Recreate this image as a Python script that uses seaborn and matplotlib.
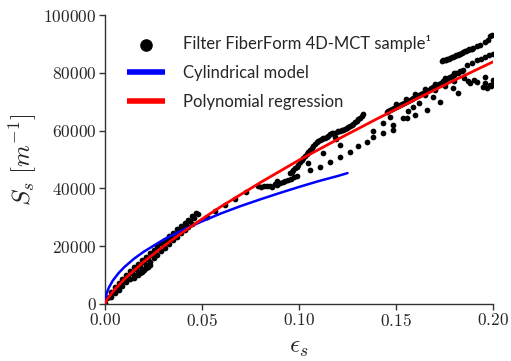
import matplotlib
matplotlib.use("Agg")
import matplotlib.pyplot as plt
from matplotlib.ticker import FuncFormatter
import seaborn as sns
import pandas as pd

# ---------------- data ----------------
# Dense band 0 - 0.048 (centre, upper edge, lower edge, lower lobe)
band_c_eps = [0.000, 0.002, 0.004, 0.006, 0.008, 0.010, 0.012, 0.014, 0.016, 0.018, 0.020, 0.022, 0.024,
              0.026, 0.028, 0.030, 0.032, 0.034, 0.036, 0.038, 0.040, 0.042, 0.044, 0.046, 0.048]
band_c_S = [400, 2400, 4000, 5500, 6900, 8200, 9500, 10800, 12000, 13200, 14400, 15600, 16800,
            18000, 19200, 20500, 21700, 22900, 24100, 25300, 26400, 27500, 28600, 29800, 31000]
band_u_eps = [0.001, 0.003, 0.005, 0.007, 0.009, 0.011, 0.013, 0.015, 0.017, 0.019, 0.021, 0.023,
              0.025, 0.027, 0.029, 0.031, 0.033, 0.035, 0.037, 0.039, 0.041, 0.043, 0.045, 0.047]
band_u_S = [2200, 4000, 5800, 7300, 8800, 10100, 11400, 12700, 13900, 15100, 16300, 17500,
            18700, 19900, 21100, 22300, 23500, 24700, 25900, 27000, 28100, 29200, 30300, 31400]
band_l_eps = [0.003, 0.005, 0.007, 0.009, 0.011, 0.013, 0.015, 0.017, 0.019, 0.021, 0.023, 0.025,
              0.027, 0.029, 0.031, 0.033, 0.035, 0.037, 0.039, 0.041, 0.043, 0.045]
band_l_S = [2300, 3700, 5000, 6300, 7500, 8700, 9900, 11000, 12200, 13400, 14600, 15900,
            17100, 18300, 19500, 20800, 22000, 23200, 24400, 25500, 26600, 27700]
lobe_eps = [0.015, 0.017, 0.018, 0.019, 0.020, 0.021, 0.022, 0.023]
lobe_S = [9000, 10100, 10700, 11200, 11700, 12300, 12800, 13500]

# Sparse dots and clusters beyond 0.05
sparse_eps = [0.0524, 0.0567, 0.0619, 0.0670, 0.0727]
sparse_S = [30200, 32300, 34300, 36200, 38600]
flat_eps = [0.0790, 0.0805, 0.0820, 0.0835, 0.0850, 0.0860, 0.0875, 0.0885, 0.0885, 0.0900,
            0.0915, 0.0930, 0.0945, 0.0960, 0.0975, 0.0990]
flat_S = [41000, 40600, 40800, 40700, 41000, 40500, 41600, 42500, 41200, 41700,
          42100, 42500, 43000, 43400, 43800, 44300]
rise_eps = [0.0954, 0.0970, 0.0988, 0.1005, 0.1022, 0.1040, 0.1057, 0.1074, 0.1091, 0.1108,
            0.1125, 0.1142, 0.1160, 0.1177, 0.1185, 0.1190, 0.1194, 0.1212, 0.1229, 0.1246,
            0.1263, 0.1280, 0.1297, 0.1315, 0.1332,
            0.0962, 0.0979, 0.0996, 0.1013, 0.1031, 0.1048, 0.1065, 0.1082, 0.1100, 0.1116,
            0.1133, 0.1151, 0.1168, 0.1203, 0.1220, 0.1237, 0.1254, 0.1271, 0.1288, 0.1306, 0.1323]
rise_S = [45200, 46300, 47500, 49000, 50400, 51900, 53300, 54800, 56200, 56800,
          57300, 57900, 58800, 59200, 57900, 57000, 59500, 59900, 60300, 60900,
          61500, 62400, 63400, 64500, 65700,
          45700, 46900, 48200, 49700, 51100, 52600, 54000, 55500, 56500, 57000,
          57600, 58300, 59000, 59700, 60100, 60600, 61200, 61900, 62900, 63900, 65100]
lowrow_eps = [0.1048, 0.1057, 0.1108, 0.1125, 0.1160, 0.1211, 0.1211, 0.1263, 0.1306, 0.1349,
              0.1383, 0.1383, 0.1435, 0.1486, 0.1435, 0.1486, 0.1538, 0.1598, 0.1658]
lowrow_S = [48900, 46400, 47500, 52100, 49200, 50700, 55000, 52700, 54700, 56200,
            57700, 60000, 59000, 60200, 62500, 61900, 64200, 65400, 67100]
mid_eps = [0.1452, 0.1470, 0.1490, 0.1510, 0.1530, 0.1550, 0.1570, 0.1590, 0.1610, 0.1630,
           0.1650, 0.1670, 0.1690, 0.1710, 0.1730, 0.1750, 0.1770, 0.1790, 0.1810, 0.1830,
           0.1847, 0.150, 0.155, 0.160, 0.165, 0.170, 0.175, 0.180, 0.165, 0.170, 0.175, 0.180,
           0.1461, 0.1480, 0.1500, 0.1520, 0.1540, 0.1560, 0.1580, 0.1600, 0.1620, 0.1640,
           0.1660, 0.1680, 0.1700, 0.1720, 0.1740, 0.1760, 0.1780, 0.1800, 0.1820, 0.1838]
mid_S = [66500, 67100, 67800, 68500, 69200, 69900, 70600, 71300, 72000, 72700,
         73400, 74200, 75000, 75800, 76600, 77400, 78200, 79000, 79800, 80500,
         81000, 69200, 71000, 72800, 74500, 76300, 78200, 80100, 72200, 73900, 75500, 77300,
         66800, 67400, 68100, 68800, 69500, 70200, 70900, 71600, 72300, 73000,
         73800, 74600, 75400, 76200, 77000, 77800, 78600, 79400, 80100, 80700]
cont_eps = [0.1864, 0.1890, 0.1915, 0.1940, 0.1960, 0.1980, 0.2000]
cont_S = [82700, 83500, 84300, 84900, 85600, 86000, 86500]
top_eps = [0.1735, 0.1750, 0.1765, 0.1780, 0.1795, 0.1810, 0.1825, 0.1840, 0.1855, 0.1870,
           0.1885, 0.1899, 0.1915, 0.1933, 0.1959, 0.1975, 0.1985, 0.1993,
           0.1742, 0.1757, 0.1772, 0.1787, 0.1802, 0.1817, 0.1832, 0.1847, 0.1862, 0.1877, 0.1892]
top_S = [84200, 84500, 84800, 85100, 85500, 86000, 86400, 86900, 87400, 87900,
         88300, 88600, 89200, 89600, 90800, 91500, 92700, 93100,
         84300, 84600, 84900, 85300, 85700, 86200, 86600, 87100, 87600, 88100, 88400]
scat_eps = [0.1470, 0.1555, 0.1560, 0.1590, 0.1620, 0.1690, 0.1727, 0.1795, 0.1820, 0.1850,
            0.1870, 0.1880, 0.1900, 0.1916, 0.1950, 0.1959, 0.1960, 0.1970, 0.1985, 0.1990,
            0.2000, 0.2000]
scat_S = [64800, 64200, 66800, 68300, 69500, 71700, 70000, 74600, 72900, 78300,
          77000, 76400, 77500, 76900, 75200, 78700, 76400, 74600, 75800, 75300,
          76000, 77500]

# Cylindrical model curve
cyl_eps = [0.0, 0.0005, 0.001, 0.002, 0.004, 0.007, 0.010, 0.015, 0.020, 0.030, 0.040, 0.050,
           0.060, 0.070, 0.080, 0.090, 0.100, 0.110, 0.120, 0.125]
cyl_S = [0, 2900, 4000, 5700, 8100, 10700, 12800, 15700, 18100, 22200, 25600, 28600,
         31400, 33900, 36200, 38400, 40500, 42500, 44300, 45300]

# Polynomial regression curve
poly_eps = [0.0, 0.001, 0.0025, 0.005, 0.010, 0.020, 0.030, 0.040, 0.050, 0.060, 0.070, 0.080,
            0.090, 0.100, 0.110, 0.120, 0.130, 0.140, 0.150, 0.160, 0.170, 0.180, 0.190, 0.200]
poly_S = [0, 1500, 2900, 5000, 8600, 14600, 19900, 24800, 29400, 33800, 37900, 42000,
          45900, 49800, 53400, 57000, 60500, 64000, 67400, 70800, 74100, 77400, 80600, 83800]

x_ticks = [0.00, 0.05, 0.10, 0.15, 0.20]
y_ticks = [0, 20000, 40000, 60000, 80000, 100000]

labels = ["Filter FiberForm 4D-MCT sample¹", "Cylindrical model", "Polynomial regression"]

# ---------------- build frames ----------------
pts_eps = (band_c_eps + band_u_eps + band_l_eps + lobe_eps + sparse_eps + flat_eps + rise_eps
           + lowrow_eps + mid_eps + cont_eps + top_eps + scat_eps)
pts_S = (band_c_S + band_u_S + band_l_S + lobe_S + sparse_S + flat_S + rise_S
         + lowrow_S + mid_S + cont_S + top_S + scat_S)
df_pts = pd.DataFrame({"eps": pts_eps, "S": pts_S})
df_cyl = pd.DataFrame({"eps": cyl_eps, "S": cyl_S})
df_poly = pd.DataFrame({"eps": poly_eps, "S": poly_S})

# ---------------- plot ----------------
sns.set_style("ticks")
plt.rcParams["mathtext.fontset"] = "cm"
plt.rcParams["font.family"] = ["Lato", "DejaVu Sans"]

fig = plt.figure(figsize=(5.11, 3.61), dpi=100)
ax = fig.add_axes([0.2055, 0.1579, 0.7593, 0.8005])

sns.scatterplot(data=df_pts, x="eps", y="S", ax=ax, color="black", s=17, linewidth=0,
                label=labels[0], zorder=2)
sns.lineplot(data=df_cyl, x="eps", y="S", ax=ax, color="#0000ff", lw=1.8, sort=False,
             estimator=None, label=labels[1], zorder=3)
sns.lineplot(data=df_poly, x="eps", y="S", ax=ax, color="#ff0000", lw=2.0, sort=False,
             estimator=None, label=labels[2], zorder=4)

ax.set_xlim(0, 0.20)
ax.set_ylim(0, 100000)
ax.set_xticks(x_ticks)
ax.set_yticks(y_ticks)
ax.xaxis.set_major_formatter(FuncFormatter(lambda v, p: f"${v:.2f}$"))
ax.yaxis.set_major_formatter(FuncFormatter(lambda v, p: f"${int(round(v))}$"))
ax.tick_params(axis="both", labelsize=12.5, length=4, width=1, color="#333333", pad=2)
for sp in ["left", "bottom"]:
    ax.spines[sp].set_color("#333333")
    ax.spines[sp].set_linewidth(1)
sns.despine(ax=ax)

ax.set_xlabel(r"$\epsilon_s$", fontsize=18, labelpad=5)
ax.set_ylabel(r"$S_s\ [m^{-1}]$", fontsize=18, labelpad=3)

leg = ax.legend(loc="upper left", bbox_to_anchor=(0.057, 0.93), frameon=False,
                prop={"family": ["Lato", "DejaVu Sans"], "size": 12},
                handlelength=2.3, handletextpad=1.06, labelspacing=0.78,
                markerscale=2.2, borderaxespad=0, borderpad=0)
for ln in leg.get_lines():
    ln.set_linewidth(4)
    ln.set_solid_capstyle("butt")

fig.savefig("out.png", dpi=100)
